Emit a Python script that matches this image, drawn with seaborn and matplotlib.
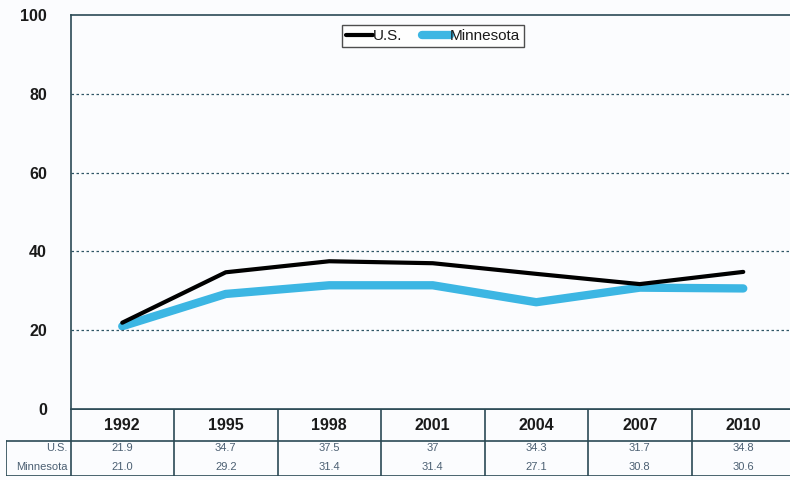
import matplotlib
matplotlib.use("Agg")
import matplotlib.pyplot as plt
import seaborn as sns
import pandas as pd

# data
years = ["1992", "1995", "1998", "2001", "2004", "2007", "2010"]
us_vals = [21.9, 34.7, 37.5, 37, 34.3, 31.7, 34.8]
mn_vals = [21.0, 29.2, 31.4, 31.4, 27.1, 30.8, 30.6]
us_labels = ["21.9", "34.7", "37.5", "37", "34.3", "31.7", "34.8"]
mn_labels = ["21.0", "29.2", "31.4", "31.4", "27.1", "30.8", "30.6"]
series_names = ["U.S.", "Minnesota"]
yticks = [0, 20, 40, 60, 80, 100]

sns.set_style("white")
plt.rcParams["font.family"] = ["Liberation Sans", "DejaVu Sans"]

bg = "#fbfcfe"
grid_col = "#2e5566"
border = "#2b4a55"
blue = "#3cb6e3"

df = pd.DataFrame({
    "x": list(range(len(years))) * 2,
    "value": us_vals + mn_vals,
    "series": [series_names[0]] * len(years) + [series_names[1]] * len(years),
})

fig = plt.figure(figsize=(7.9, 4.8), dpi=100, facecolor=bg)
W, H = 790, 480
left, right, top, bottom = 70.5, 795, 15, 409
ax = fig.add_axes([left / W, 1 - bottom / H, (right - left) / W, (bottom - top) / H])
ax.set_facecolor(bg)

# Minnesota drawn first, U.S. on top
sns.lineplot(data=df[df.series == "Minnesota"], x="x", y="value", ax=ax,
             color=blue, linewidth=6, solid_capstyle="round", label="Minnesota")
sns.lineplot(data=df[df.series == "U.S."], x="x", y="value", ax=ax,
             color="black", linewidth=3, solid_capstyle="round", label="U.S.")

ax.set_xlim(-0.5, len(years) - 0.5)
ax.set_ylim(0, 100)
ax.set_yticks(yticks)
ax.set_yticklabels([str(t) for t in yticks], fontsize=11.5, fontweight="bold", color="#1a1a1a")
ax.tick_params(axis="y", length=0, pad=17)
ax.set_xticks([])
ax.set_xlabel("")
ax.set_ylabel("")
for t in yticks[1:-1]:
    ax.axhline(t, color=grid_col, linestyle=(0, (2, 2)), linewidth=0.9)
for side in ["left", "top", "bottom"]:
    ax.spines[side].set_color(border)
    ax.spines[side].set_linewidth(1.2)
ax.spines["right"].set_visible(False)

handles, labels = ax.get_legend_handles_labels()
order = [labels.index(n) for n in series_names]
leg = ax.legend([handles[i] for i in order], [labels[i] for i in order],
                loc="upper center", bbox_to_anchor=(0.5, 0.993), ncol=2,
                frameon=True, fancybox=False, fontsize=11, handlelength=1.8,
                handletextpad=0.0, columnspacing=1.3, borderpad=0.25)
leg.get_frame().set_edgecolor("#222222")
leg.get_frame().set_linewidth(1.0)
leg.get_frame().set_facecolor("white")
for t in leg.get_texts():
    t.set_color("#1a1a1a")

# data table below the plot
tab_left, tab_bottom = 6, 476
tax = fig.add_axes([tab_left / W, 1 - tab_bottom / H, (right - tab_left) / W, (tab_bottom - bottom) / H])
tax.set_axis_off()
# x in the same units as the plot, y in pixel rows
ncol = len(years)
x0 = -0.5 - (left - tab_left) / ((right - left) / ncol)
tax.set_xlim(x0, ncol - 0.5)
tax.set_ylim(tab_bottom, bottom)
hdr_bottom = 441
line_kw = dict(color=border, linewidth=1.2)
tax.plot([-0.5, ncol - 0.5], [bottom, bottom], **line_kw)
tax.plot([x0, ncol - 0.5], [hdr_bottom, hdr_bottom], **line_kw)
tax.plot([x0, ncol - 0.5], [tab_bottom - 0.5, tab_bottom - 0.5], **line_kw)
tax.plot([x0, x0], [hdr_bottom, tab_bottom], **line_kw)
for i in range(ncol + 1):
    tax.plot([i - 0.5, i - 0.5], [bottom, tab_bottom], **line_kw)
for i, yr in enumerate(years):
    tax.text(i, (bottom + hdr_bottom) / 2 + 1, yr, ha="center", va="center",
             fontsize=11.5, fontweight="bold", color="#1a1a1a")
    tax.text(i, 448, us_labels[i], ha="center", va="center", fontsize=8, color="#4b5f72")
    tax.text(i, 467.5, mn_labels[i], ha="center", va="center", fontsize=8, color="#4b5f72")
tax.text(-0.53, 448, series_names[0], ha="right", va="center", fontsize=8, color="#4b5f72")
tax.text(-0.53, 467.5, series_names[1], ha="right", va="center", fontsize=8, color="#4b5f72")

fig.savefig("out.png", dpi=100, facecolor=bg)
